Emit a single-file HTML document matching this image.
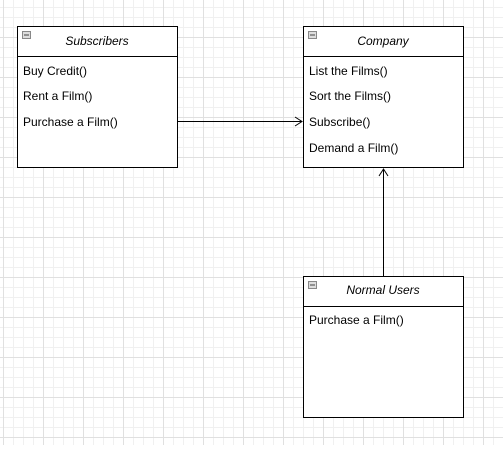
<!DOCTYPE html>
<html><head><style>body{margin:0;background:#fff}</style></head><body>
<svg width="503" height="445" xmlns="http://www.w3.org/2000/svg" font-family="Liberation Sans, Arial, sans-serif" font-size="12">
<defs>
<pattern id="g" x="3" y="7" width="10" height="10" patternUnits="userSpaceOnUse"><path d="M0 0.5H10M0.5 0V10" stroke="#f0f0f0" stroke-width="1" fill="none"/></pattern>
<pattern id="G" x="3" y="-3" width="40" height="40" patternUnits="userSpaceOnUse"><path d="M0 0.5H40M0.5 0V40" stroke="#e0e0e0" stroke-width="1" fill="none"/></pattern>
</defs>
<rect width="503" height="445" fill="url(#g)"/>
<rect width="503" height="445" fill="url(#G)"/>
<g stroke="#000" fill="#fff">
<rect x="17.5" y="26.5" width="160" height="141"/><line x1="17" y1="56.5" x2="178" y2="56.5"/>
<rect x="303.5" y="26.5" width="160" height="141"/><line x1="303" y1="56.5" x2="464" y2="56.5"/>
<rect x="303.5" y="276.5" width="160" height="141"/><line x1="303" y1="306.5" x2="464" y2="306.5"/>
</g>
<g fill="#ddd" stroke="#888"><rect x="22.5" y="31.5" width="8" height="7"/><rect x="308.5" y="31.5" width="8" height="7"/><rect x="308.5" y="281.5" width="8" height="7"/></g>
<g stroke="#444"><line x1="24" y1="35" x2="29" y2="35"/><line x1="310" y1="35" x2="315" y2="35"/><line x1="310" y1="285" x2="315" y2="285"/></g>
<g font-style="italic" text-anchor="middle"><text x="97" y="45">Subscribers</text><text x="383" y="45">Company</text><text x="383" y="294">Normal Users</text></g>
<text x="23" y="75">Buy Credit()</text><text x="23" y="100">Rent a Film()</text><text x="23" y="126">Purchase a Film()</text>
<text x="309" y="75">List the Films()</text><text x="309" y="100">Sort the Films()</text><text x="309" y="126">Subscribe()</text><text x="309" y="152">Demand a Film()</text>
<text x="309" y="324">Purchase a Film()</text>
<g stroke="#000" fill="none"><line x1="178" y1="121.5" x2="302" y2="121.5"/><path d="M295 117L302 121.5L295 126"/>
<line x1="383.5" y1="276" x2="383.5" y2="169"/><path d="M379 176L383.5 169L388 176"/></g>
</svg>
</body></html>
